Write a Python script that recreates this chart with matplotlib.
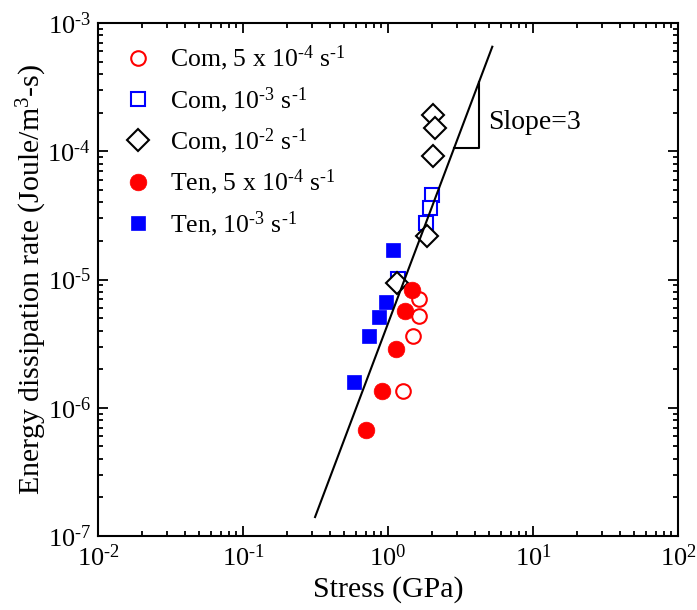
import matplotlib
matplotlib.use("Agg")
import matplotlib.pyplot as plt
import numpy as np
from matplotlib.ticker import LogLocator, FuncFormatter, NullFormatter

plt.rcParams['font.family'] = ['Liberation Serif', 'DejaVu Serif']
plt.rcParams['mathtext.fontset'] = 'custom'
plt.rcParams['mathtext.rm'] = 'Liberation Serif'
plt.rcParams['mathtext.it'] = 'Liberation Serif:italic'
plt.rcParams['mathtext.bf'] = 'Liberation Serif:bold'

HY = '\u2010'  # hyphen, as in the original

# ---- data (stress in GPa, energy dissipation rate in J/m^3-s) ----
com_5e4_x = [1.64, 1.64, 1.48, 1.26]
com_5e4_y = [7.05e-6, 5.22e-6, 3.65e-6, 1.36e-6]
com_1e3_x = [2.00, 1.95, 1.82, 1.17]
com_1e3_y = [4.56e-5, 3.63e-5, 2.74e-5, 1.01e-5]
com_1e2_x = [2.05, 2.11, 2.05, 1.85, 1.16]
com_1e2_y = [1.92e-4, 1.51e-4, 9.23e-5, 2.20e-5, 9.34e-6]
ten_5e4_x = [1.46, 1.31, 1.13, 0.905, 0.702]
ten_5e4_y = [8.28e-6, 5.71e-6, 2.87e-6, 1.35e-6, 6.71e-7]
ten_1e3_x = [1.08, 0.968, 0.871, 0.743, 0.583]
ten_1e3_y = [1.70e-5, 6.71e-6, 5.07e-6, 3.65e-6, 1.58e-6]

fit_x = [0.314, 5.24]
fit_coef = 4.54e-6
fit_slope = 3
tri_x = [2.85, 4.25]

labels = [r"Com, 5 x 10$^{%s4}$ s$^{%s1}$" % (HY, HY),
          r"Com, 10$^{%s3}$ s$^{%s1}$" % (HY, HY),
          r"Com, 10$^{%s2}$ s$^{%s1}$" % (HY, HY),
          r"Ten, 5 x 10$^{%s4}$ s$^{%s1}$" % (HY, HY),
          r"Ten, 10$^{%s3}$ s$^{%s1}$" % (HY, HY)]

fig = plt.figure(figsize=(6.97, 6.10), dpi=100)
ax = fig.add_axes([98/697, (610-536)/610, 580/697, 513/610])

red = '#ff0000'
blue = '#0000ff'
mew = 1.5

h1, = ax.plot(com_5e4_x, com_5e4_y, 'o', ms=10.5, mfc='white', mec=red, mew=mew, ls='none', zorder=3)
h2, = ax.plot(com_1e3_x, com_1e3_y, 's', ms=9.5, mfc='white', mec=blue, mew=mew, ls='none', zorder=3)
h3, = ax.plot(com_1e2_x, com_1e2_y, 'D', ms=11, mfc='white', mec='black', mew=mew, ls='none', zorder=3)
h4, = ax.plot(ten_5e4_x, ten_5e4_y, 'o', ms=12, mfc=red, mec=red, mew=0.5, ls='none', zorder=3)
h5, = ax.plot(ten_1e3_x, ten_1e3_y, 's', ms=10.5, mfc=blue, mec=blue, mew=0.5, ls='none', zorder=3)

fx = np.array(fit_x)
ax.plot(fx, fit_coef * fx**fit_slope, color='black', lw=1.5, zorder=4)
tx = np.array(tri_x)
ty = fit_coef * tx**fit_slope
ax.plot([tx[0], tx[1], tx[1]], [ty[0], ty[0], ty[1]], color='black', lw=1.5, zorder=4)
ax.text(4.9, 1.69e-4, "Slope=3", fontsize=20, va='center', ha='left')

ax.set_xscale('log')
ax.set_yscale('log')
ax.set_xlim(1e-2, 1e2)
ax.set_ylim(1e-7, 1e-3)

def logfmt(v, pos):
    e = int(round(np.log10(v)))
    s = str(e).replace('-', HY)
    return r"10$^{%s}$" % s

for axis in (ax.xaxis, ax.yaxis):
    axis.set_major_locator(LogLocator(base=10, numticks=10))
    axis.set_minor_locator(LogLocator(base=10, subs=np.arange(2, 10), numticks=10))
    axis.set_major_formatter(FuncFormatter(logfmt))
    axis.set_minor_formatter(NullFormatter())

ax.tick_params(which='both', direction='in', top=True, right=True, width=1.3)
ax.tick_params(which='major', length=7, labelsize=19)
ax.tick_params(which='minor', length=3.5)
ax.tick_params(axis='x', pad=6)
ax.tick_params(axis='y', pad=5)
for s in ax.spines.values():
    s.set_linewidth(1.5)

ax.set_xlabel("Stress (GPa)", fontsize=21.5, labelpad=4)
ax.set_ylabel(r"Energy dissipation rate (Joule/m$^{3}$%ss)" % HY, fontsize=21.5, labelpad=-1)

leg = ax.legend([h1, h2, h3, h4, h5], labels, loc='upper left',
                bbox_to_anchor=(0.02, 0.99), frameon=False, fontsize=18.5,
                handlelength=1.0, handletextpad=0.75, labelspacing=0.46,
                borderaxespad=0.2, numpoints=1)

fig.savefig("out.png", dpi=100)
